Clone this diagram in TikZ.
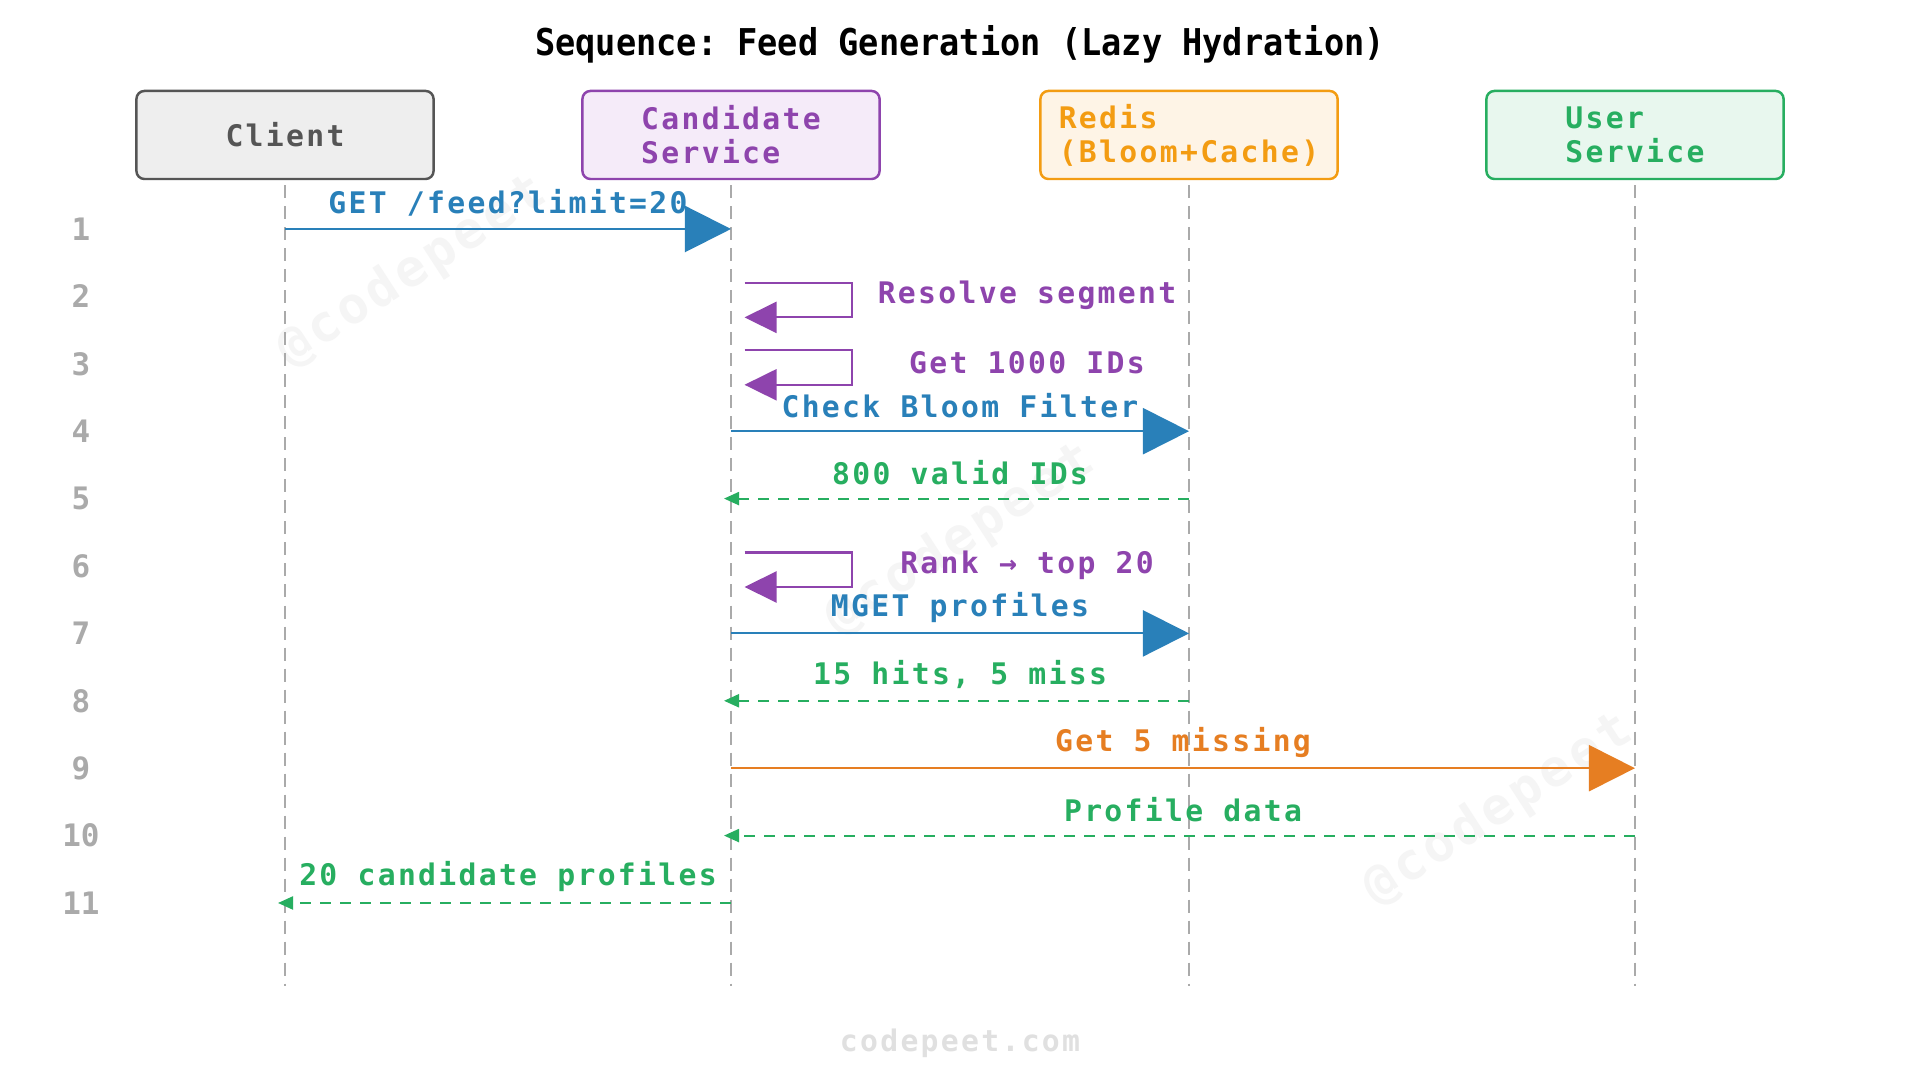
\documentclass[tikz,border=0pt]{standalone}
\usepackage{fontspec}
\usetikzlibrary{arrows.meta}
\setmainfont{DejaVu Sans Mono}
\newfontfamily\titlefont{DejaVu Sans Mono}[FakeStretch=0.91]
\newfontfamily\seqfont{DejaVu Sans Mono}[LetterSpace=7.8]
\frenchspacing
\definecolor{seqblue}{RGB}{41,128,185}
\definecolor{seqpurple}{RGB}{142,68,173}
\definecolor{seqgreen}{RGB}{39,174,96}
\definecolor{seqorange}{RGB}{230,126,34}
\definecolor{seqamber}{RGB}{243,156,18}
\definecolor{seqgray}{RGB}{170,170,170}
\definecolor{seqdark}{RGB}{85,85,85}
\definecolor{fillclient}{RGB}{238,238,238}
\definecolor{fillcand}{RGB}{245,235,249}
\definecolor{fillredis}{RGB}{254,244,230}
\definecolor{filluser}{RGB}{232,247,238}
\definecolor{wmgray}{RGB}{245,245,245}

\begin{document}
\begin{tikzpicture}[x=0.01cm,y=-0.01cm,
    actor/.style={draw,line width=0.7pt,rounded corners=0.08cm,minimum width=2.97cm,minimum height=0.88cm,
      align=left,font=\seqfont\bfseries\fontsize{8.45}{9.7}\selectfont},
    life/.style={seqgray,line width=0.45pt,dash pattern=on 0.13cm off 0.08cm},
    msg/.style={line width=0.6pt},
    req/.style={msg,-{Triangle[length=0.46cm,width=0.46cm]}},
    ret/.style={msg,seqgreen,dash pattern=on 0.11cm off 0.09cm,shorten >=-0.07cm,-{Triangle[length=0.15cm,width=0.13cm]}},
    selfcall/.style={msg,seqpurple,-{Triangle[length=0.32cm,width=0.31cm]}},
    lbl/.style={inner sep=0pt,font=\seqfont\bfseries\fontsize{8.45}{10}\selectfont},
    rownum/.style={text=seqgray,inner sep=0pt,font=\bfseries\fontsize{8.8}{10}\selectfont},
    wmark/.style={text=wmgray,rotate=33,inner sep=0pt,font=\seqfont\bfseries\fontsize{14.5}{16}\selectfont}]
  \fill[white] (0,0) rectangle (1920,1080);
  \useasboundingbox (0,0) rectangle (1920,1080);
  \node[wmark] (wm1) at (412,272) {@codepeet};
  \node[wmark] (wm2) at (960,540) {@codepeet};
  \node[wmark] (wm3) at (1498,810) {@codepeet};
  \node[font=\titlefont\bfseries\fontsize{10.5}{12}\selectfont] (title) at (960,44) {Sequence: Feed Generation (Lazy Hydration)};
  \node[actor,fill=fillclient,draw=seqdark,text=seqdark] (client) at (285,135) {Client};
  \node[actor,fill=fillcand,draw=seqpurple,text=seqpurple] (cand) at (731,135) {Candidate\\Service};
  \node[actor,fill=fillredis,draw=seqamber,text=seqamber] (redis) at (1189,135) {Redis\\(Bloom+Cache)};
  \node[actor,fill=filluser,draw=seqgreen,text=seqgreen] (user) at (1635,135) {User\\Service};
  \coordinate (clend) at (285,986);
  \coordinate (csend) at (731,986);
  \coordinate (rdend) at (1189,986);
  \coordinate (usend) at (1635,986);
  \draw[life] ([yshift=-0.05cm]client.south) -- (clend);
  \draw[life] ([yshift=-0.05cm]cand.south) -- (csend);
  \draw[life] ([yshift=-0.05cm]redis.south) -- (rdend);
  \draw[life] ([yshift=-0.05cm]user.south) -- (usend);
  \foreach \r in {1,...,11}{
    \node[rownum] (n\r) at (81,{229+(\r-1)*67.4}) {\r};
    \coordinate (cl\r) at (285,{229+(\r-1)*67.4});
    \coordinate (cs\r) at (731,{229+(\r-1)*67.4});
    \coordinate (rd\r) at (1189,{229+(\r-1)*67.4});
    \coordinate (us\r) at (1635,{229+(\r-1)*67.4});
  }
  \draw[req,seqblue] (cl1) -- node[lbl,text=seqblue,midway,yshift=0.26cm] (m1) {GET /feed?limit=20} (cs1);
  \draw[selfcall] ([shift={(13.5,-13.5)}]cs2) -- ++(107.5,0) -- ++(0,34.5) -- ++(-107.5,0);
  \node[lbl,text=seqpurple] (m2) at ([shift={(296,-1)}]cs2) {Resolve segment};
  \draw[selfcall] ([shift={(13.5,-13.5)}]cs3) -- ++(107.5,0) -- ++(0,34.5) -- ++(-107.5,0);
  \node[lbl,text=seqpurple] (m3) at ([shift={(296,-1)}]cs3) {Get 1000 IDs};
  \draw[req,seqblue] (cs4) -- node[lbl,text=seqblue,midway,yshift=0.26cm] (m4) {Check Bloom Filter} (rd4);
  \draw[ret] (rd5) -- node[lbl,text=seqgreen,midway,yshift=0.26cm] (m5) {800 valid IDs} (cs5);
  \draw[selfcall] ([shift={(13.5,-13.5)}]cs6) -- ++(107.5,0) -- ++(0,34.5) -- ++(-107.5,0);
  \node[lbl,text=seqpurple] (m6) at ([shift={(296,-1)}]cs6) {Rank → top 20};
  \draw[req,seqblue] (cs7) -- node[lbl,text=seqblue,midway,yshift=0.26cm] (m7) {MGET profiles} (rd7);
  \draw[ret] (rd8) -- node[lbl,text=seqgreen,midway,yshift=0.26cm] (m8) {15 hits, 5 miss} (cs8);
  \draw[req,seqorange] (cs9) -- node[lbl,text=seqorange,midway,yshift=0.26cm] (m9) {Get 5 missing} (us9);
  \draw[ret] (us10) -- node[lbl,text=seqgreen,midway,yshift=0.26cm] (m10) {Profile data} (cs10);
  \draw[ret] (cs11) -- node[lbl,text=seqgreen,midway,yshift=0.26cm] (m11) {20 candidate profiles} (cl11);
  \node[lbl,text=black!12] (site) at (960,1043) {codepeet.com};
\end{tikzpicture}
\end{document}
